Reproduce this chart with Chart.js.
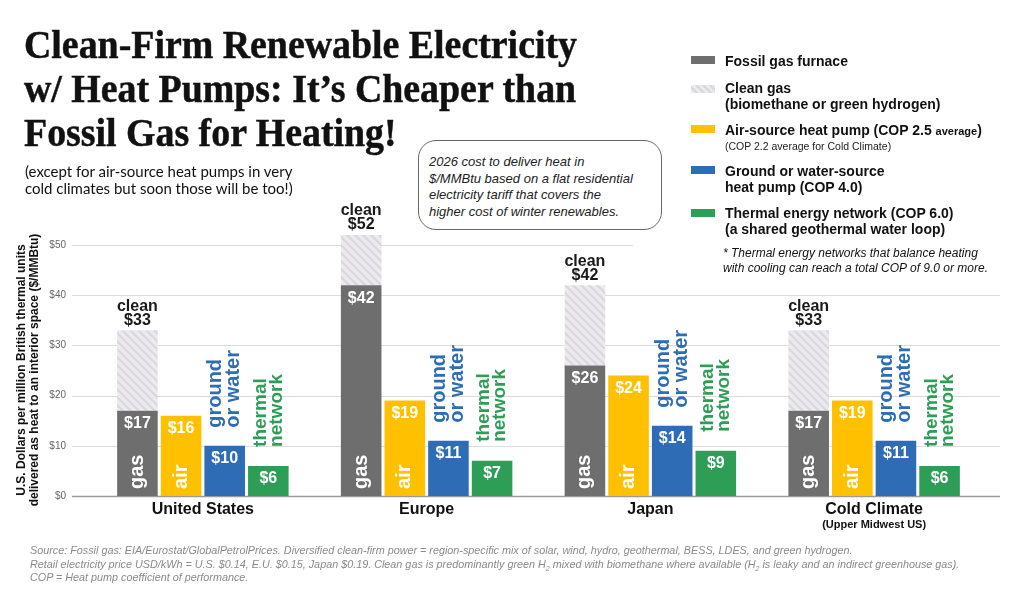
<!DOCTYPE html>
<html>
<head>
<meta charset="utf-8">
<script src="https://cdn.jsdelivr.net/npm/chart.js@4.4.1/dist/chart.umd.min.js"></script>
<style>
  html, body { margin: 0; padding: 0; background: #fff; }
  #page { position: relative; width: 1024px; height: 598px; overflow: hidden; font-family: "Liberation Sans", Arial, sans-serif; }
  #chart { position: absolute; left: 0; top: 0; }
  .abs { position: absolute; white-space: nowrap; }
  #title { left: 24px; top: 22px; font-family: "Liberation Serif", serif; font-weight: bold; font-size: 41px; line-height: 44px; color: #111; -webkit-text-stroke: 0.5px #111; }
  #title div { transform-origin: 0 50%; }
  #subtitle { left: 25px; top: 163px; font-family: Lato, sans-serif; font-size: 15px; line-height: 17px; color: #111; }
  #note { left: 418px; top: 140px; width: 232px; height: 72px; border: 1.5px solid #666; border-radius: 18px; padding: 13px 0 3px 10px; font-style: italic; font-size: 13px; line-height: 16.5px; color: #222; background: #fff; }
  #mask { left: 633px; top: 240px; width: 380px; height: 10px; background: #fff; }
  #legend { left: 632px; top: 40px; width: 392px; height: 240px; }
  .sw { position: absolute; left: 59px; width: 24px; height: 8px; }
  .lt { position: absolute; left: 93px; font-weight: bold; font-size: 14px; line-height: 16px; color: #111; white-space: nowrap; }
  .ls { position: absolute; left: 93px; font-size: 10.5px; line-height: 13px; color: #222; white-space: nowrap; }
  .lnote { position: absolute; left: 91px; font-style: italic; font-size: 12px; line-height: 15px; color: #111; white-space: nowrap; }
  #foot { left: 30px; top: 544px; font-style: italic; font-size: 10.8px; line-height: 13.5px; color: #8a8a8a; }
</style>
</head>
<body>
<div id="page">
  <canvas id="chart" width="1024" height="598"></canvas>
  <div id="mask" class="abs"></div>

  <div id="title" class="abs">
    <div>Clean-Firm Renewable Electricity</div>
    <div>w/ Heat Pumps: It’s Cheaper than</div>
    <div>Fossil Gas for Heating!</div>
  </div>
  <div id="subtitle" class="abs">(except for air-source heat pumps in very<br>cold climates but soon those will be too!)</div>

  <div id="note" class="abs">2026 cost to deliver heat in<br>$/MMBtu based on a flat residential<br>electricity tariff that covers the<br>higher cost of winter renewables.</div>

  <div id="legend" class="abs">
    <div class="sw" style="top:16px;background:#6e6e6e"></div>
    <div class="lt" style="top:13px">Fossil gas furnace</div>

    <div class="sw" style="top:45px;background:repeating-linear-gradient(45deg,#eceaef 0 3px,#d9d6dd 3px 5px)"></div>
    <div class="lt" style="top:40px">Clean gas<br>(biomethane or green hydrogen)</div>

    <div class="sw" style="top:85px;background:#ffc000"></div>
    <div class="lt" style="top:82px">Air-source heat pump (COP 2.5 <span style="font-size:11px">average</span>)</div>
    <div class="ls" style="top:100px">(COP 2.2 average for Cold Climate)</div>

    <div class="sw" style="top:126px;background:#2e6db5"></div>
    <div class="lt" style="top:123px">Ground or water-source<br>heat pump (COP 4.0)</div>

    <div class="sw" style="top:169px;background:#2e9e57"></div>
    <div class="lt" style="top:165px">Thermal energy network (COP 6.0)<br>(a shared geothermal water loop)</div>

    <div class="lnote" style="top:206px">* Thermal energy networks that balance heating<br>with cooling can reach a total COP of 9.0 or more.</div>
  </div>

  <div id="foot" class="abs">Source: Fossil gas: EIA/Eurostat/GlobalPetrolPrices. Diversified clean-firm power = region-specific mix of solar, wind, hydro, geothermal, BESS, LDES, and green hydrogen.<br>Retail electricity price USD/kWh = U.S. $0.14, E.U. $0.15, Japan $0.19. Clean gas is predominantly green H<sub style="font-size:7px;line-height:0">2</sub> mixed with biomethane where available (H<sub style="font-size:7px;line-height:0">2</sub> is leaky and an indirect greenhouse gas).<br>COP = Heat pump coefficient of performance.</div>
</div>

<script>
// --- Data ---
const regions = ['United States', 'Europe', 'Japan', 'Cold Climate'];
const regionNotes = ['', '', '', '(Upper Midwest US)'];
const fossilGas = [17, 42, 26, 17];
const cleanGas = [33, 52, 42, 33];
const airSource = [16, 19, 24, 19];
const groundSource = [10, 11, 14, 11];
const thermalNetwork = [6, 7, 9, 6];
const yTicks = [0, 10, 20, 30, 40, 50];

const colors = {
    gas: '#6e6e6e',
    air: '#ffc000',
    ground: '#2e6db5',
    thermal: '#2e9e57'
};

// squeeze the serif title so line 1 spans the same width as the original
(function fitTitle() {
    const lines = document.querySelectorAll('#title div');
    const r = document.createRange();
    r.selectNodeContents(lines[0]);
    const w = r.getBoundingClientRect().width;
    const k = 553 / w;
    lines.forEach(l => { l.style.transform = 'scaleX(' + k + ')'; });
})();

// striped fill for the clean gas part
function makeHatch() {
    const c = document.createElement('canvas');
    c.width = 8; c.height = 8;
    const g = c.getContext('2d');
    g.fillStyle = '#eceaef';
    g.fillRect(0, 0, 8, 8);
    g.strokeStyle = '#d9d6dd';
    g.lineWidth = 2;
    g.beginPath();
    g.moveTo(-2, -2); g.lineTo(10, 10);
    g.moveTo(-6, 2); g.lineTo(2, 10);
    g.moveTo(6, -2); g.lineTo(10, 2);
    g.stroke();
    return g.createPattern(c, 'repeat');
}

const FONT = '"Liberation Sans", Arial, sans-serif';

// gridlines wider than the plot area, like the original
const gridPlugin = {
    id: 'grid',
    beforeDatasetsDraw(chart) {
        const ctx = chart.ctx;
        const y = chart.scales.y;
        ctx.save();
        yTicks.forEach(v => {
            const py = Math.round(y.getPixelForValue(v)) + 0.5;
            ctx.strokeStyle = v === 0 ? '#9a9a9a' : '#dcdcdc';
            ctx.lineWidth = v === 0 ? 1.5 : 1;
            ctx.beginPath();
            ctx.moveTo(72, py);
            ctx.lineTo(1000, py);
            ctx.stroke();
        });
        ctx.restore();
    }
};

function rotText(ctx, lines, x0, yStart, gap, font, color) {
    ctx.save();
    ctx.font = font;
    ctx.fillStyle = color;
    ctx.textAlign = 'left';
    ctx.textBaseline = 'middle';
    lines.forEach((t, k) => {
        ctx.save();
        ctx.translate(x0 + k * gap, yStart);
        ctx.rotate(-Math.PI / 2);
        ctx.fillText(t, 0, 0);
        ctx.restore();
    });
    ctx.restore();
}

const labelPlugin = {
    id: 'labels',
    afterDatasetsDraw(chart) {
        const ctx = chart.ctx;
        const gasMeta = chart.getDatasetMeta(0);
        const cleanMeta = chart.getDatasetMeta(1);
        const airMeta = chart.getDatasetMeta(2);
        const groundMeta = chart.getDatasetMeta(3);
        const thermMeta = chart.getDatasetMeta(4);
        const base = chart.scales.y.getPixelForValue(0);

        ctx.save();
        ctx.textAlign = 'center';
        ctx.textBaseline = 'middle';
        regions.forEach((r, i) => {
            // values inside bars
            ctx.font = 'bold 16px ' + FONT;
            ctx.fillStyle = '#fff';
            [[gasMeta, fossilGas], [airMeta, airSource], [groundMeta, groundSource], [thermMeta, thermalNetwork]].forEach(([m, arr]) => {
                const b = m.data[i];
                ctx.fillText('$' + arr[i], b.x, b.y + 13);
            });

            // clean gas total above
            const c = cleanMeta.data[i];
            ctx.fillStyle = '#1a1a1a';
            ctx.fillText('clean', c.x, c.y - 24);
            ctx.fillText('$' + cleanGas[i], c.x, c.y - 10);

            // category labels
            const cx = chart.scales.x.getPixelForValue(i);
            ctx.font = 'bold 16px ' + FONT;
            ctx.fillStyle = '#111';
            ctx.fillText(r, cx, 510);
            if (regionNotes[i]) {
                ctx.font = 'bold 11px ' + FONT;
                ctx.fillText(regionNotes[i], cx, 525);
            }
        });
        ctx.restore();

        // rotated words
        regions.forEach((r, i) => {
            const g = gasMeta.data[i], a = airMeta.data[i];
            const gr = groundMeta.data[i], th = thermMeta.data[i];
            rotText(ctx, ['gas'], g.x, base - 7, 0, 'bold 20px ' + FONT, '#fff');
            rotText(ctx, ['air'], a.x, base - 7, 0, 'bold 20px ' + FONT, '#fff');
            rotText(ctx, ['ground', 'or water'], gr.x - 9, gr.y - 18, 18, 'bold 20px ' + FONT, colors.ground);
            rotText(ctx, ['thermal', 'network'], th.x - 8, th.y - 19, 16, 'bold 19px ' + FONT, colors.thermal);
        });

        // y axis title
        ctx.save();
        ctx.font = 'bold 12px ' + FONT;
        ctx.fillStyle = '#111';
        ctx.textAlign = 'center';
        ctx.textBaseline = 'middle';
        ctx.translate(22, 370);
        ctx.rotate(-Math.PI / 2);
        ctx.fillText('U.S. Dollars per million British thermal units', 0, 0);
        ctx.fillText('delivered as heat to an interior space ($/MMBtu)', 0, 12.5);
        ctx.restore();
    }
};

const barOpts = { categoryPercentage: 0.78, barPercentage: 0.93, borderWidth: 0, clip: false };

new Chart(document.getElementById('chart').getContext('2d'), {
    type: 'bar',
    data: {
        labels: regions,
        datasets: [
            { label: 'Fossil gas furnace', data: fossilGas, backgroundColor: colors.gas, stack: 'gas', ...barOpts },
            { label: 'Clean gas', data: cleanGas.map((v, i) => [fossilGas[i], v]), backgroundColor: makeHatch(), stack: 'gas', ...barOpts },
            { label: 'Air-source heat pump', data: airSource, backgroundColor: colors.air, stack: 'air', ...barOpts },
            { label: 'Ground or water-source heat pump', data: groundSource, backgroundColor: colors.ground, stack: 'ground', ...barOpts },
            { label: 'Thermal energy network', data: thermalNetwork, backgroundColor: colors.thermal, stack: 'thermal', ...barOpts }
        ]
    },
    options: {
        responsive: false,
        animation: false,
        layout: { padding: { left: 0, right: 38, top: 245, bottom: 102 } },
        scales: {
            x: { display: false, stacked: true },
            y: {
                stacked: false,
                min: 0,
                max: 50,
                afterFit(s) { s.width = 91; },
                afterBuildTicks(s) { s.ticks = yTicks.map(v => ({ value: v })); },
                grid: { display: false },
                border: { display: false },
                ticks: {
                    padding: 17,
                    color: '#666',
                    font: { size: 10, family: FONT },
                    callback: v => '$' + v
                }
            }
        },
        plugins: {
            legend: { display: false },
            tooltip: { enabled: false }
        }
    },
    plugins: [gridPlugin, labelPlugin]
});
</script>
</body>
</html>
